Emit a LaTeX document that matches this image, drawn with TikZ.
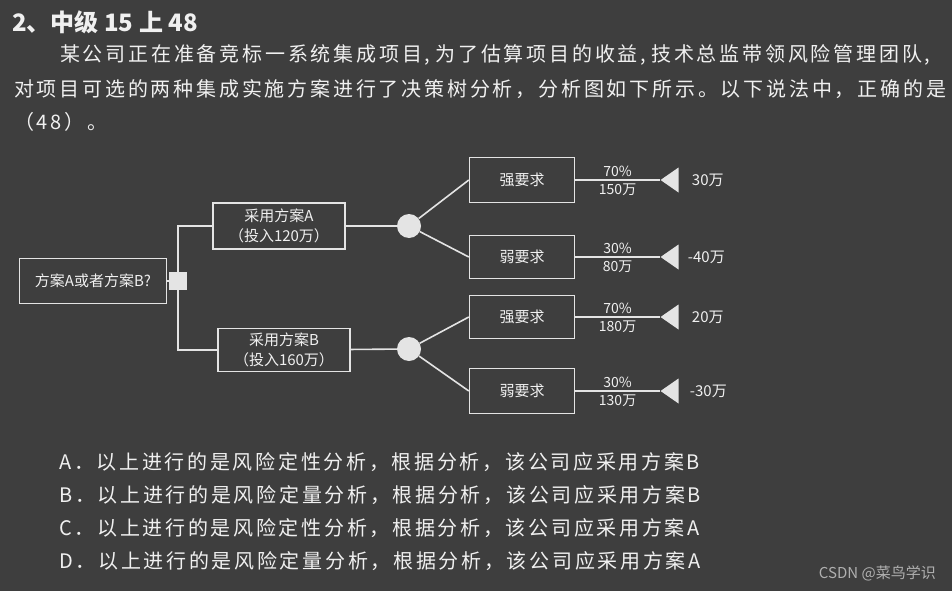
\documentclass[tikz,border=0pt]{standalone}
\usepackage{fontspec}
\setmainfont{Noto Sans CJK SC}
\newfontfamily\cjkfont{Noto Sans CJK SC}
\newfontfamily\bodyfont[LetterSpace=14]{Noto Sans CJK SC}
\newfontfamily\optfont[LetterSpace=13.5]{Noto Sans CJK SC}
\usetikzlibrary{positioning, shapes.geometric}

\definecolor{bgcol}{RGB}{62,62,62}
\definecolor{fgcol}{RGB}{240,240,240}
\definecolor{linecol}{RGB}{228,228,228}
\definecolor{markcol}{RGB}{176,176,176}

\begin{document}
\begin{tikzpicture}[
      x=1pt, y=-1pt,
      every node/.style={text=fgcol, inner sep=0pt},
      para/.style={anchor=west, font=\bodyfont\fontsize{20}{24}\selectfont},
      opt/.style={anchor=west, font=\optfont\fontsize{20}{24}\selectfont},
      box/.style={draw=linecol, line width=1.4pt, align=center,
        font=\cjkfont\fontsize{15}{20}\selectfont},
      decision/.style={rectangle, fill=linecol, minimum size=18pt},
      chance/.style={circle, fill=linecol, minimum size=24pt},
      endpt/.style={isosceles triangle, isosceles triangle stretches,
        shape border rotate=180, fill=linecol, minimum width=25pt,
        minimum height=18pt, anchor=apex},
      prob/.style={font=\cjkfont\fontsize{14}{16}\selectfont, inner sep=3pt},
      payoff/.style={font=\cjkfont\fontsize{15}{17}\selectfont},
      link/.style={draw=linecol, line width=1.6pt},
    ]
    \fill[bgcol] (0,0) rectangle (952,591);

    % question text
    \node[anchor=west, font=\cjkfont\bfseries\fontsize{24}{28}\selectfont] (title) at (12,22) {2、中级 15 上 48};
    \node[para] (line1) at (60,55) {某公司正在准备竞标一系统集成项目,\hspace{5pt}为了估算项目的收益,\hspace{5pt}技术总监带领风险管理团队,};
    \node[para] (line2) at (14,89) {对项目可选的两种集成实施方案进行了决策树分析，分析图如下所示。以下说法中，正确的是};
    \node[para] (line3) at (14,122) {（48）。};

    % decision tree
    \node[box, minimum width=147pt, minimum height=45pt] (root) at (93,281) {方案A或者方案B?};
    \node[decision] (dec) at (178,281) {};
    \node[box, minimum width=132pt, minimum height=46pt] (planA) at (279,226) {采用方案A\\（投入120万）};
    \node[box, minimum width=132pt, minimum height=43pt] (planB) at (284,350) {采用方案B\\（投入160万）};
    \node[chance] (chA) at (409,226) {};
    \node[chance] (chB) at (409,349) {};

    \node[box, minimum width=105pt, minimum height=45pt] (strongA) at (522,180) {强要求};
    \node[box, minimum width=105pt, minimum height=43pt] (weakA) at (522,257) {弱要求};
    \node[box, minimum width=105pt, minimum height=43pt] (strongB) at (522,317) {强要求};
    \node[box, minimum width=105pt, minimum height=45pt] (weakB) at (522,391) {弱要求};

    \node[endpt] (endA1) at (660,180) {};
    \node[endpt] (endA2) at (660,257) {};
    \node[endpt] (endB1) at (660,317) {};
    \node[endpt] (endB2) at (660,391) {};

    \node[payoff, right=13pt of endA1] (valA1) {30万};
    \node[payoff, right=9pt of endA2] (valA2) {-40万};
    \node[payoff, right=13pt of endB1] (valB1) {20万};
    \node[payoff, right=11pt of endB2] (valB2) {-30万};

    \draw[link] (root) -- (dec);
    \draw[link] (dec) |- (planA.west);
    \draw[link] (dec) |- (planB.west);
    \draw[link] (planA) -- (chA);
    \draw[link] (planB) -- (chB);
    \draw[link] (chA) -- (strongA.west);
    \draw[link] (chA) -- (weakA.west);
    \draw[link] (chB) -- (strongB.west);
    \draw[link] (chB) -- (weakB.west);
    \draw[link] (strongA) -- node[prob, above] (pA1) {70\%} node[prob, below] (cA1) {150万} (endA1.apex);
    \draw[link] (weakA) -- node[prob, above] (pA2) {30\%} node[prob, below] (cA2) {80万} (endA2.apex);
    \draw[link] (strongB) -- node[prob, above] (pB1) {70\%} node[prob, below] (cB1) {180万} (endB1.apex);
    \draw[link] (weakB) -- node[prob, above] (pB2) {30\%} node[prob, below] (cB2) {130万} (endB2.apex);

    % answer options
    \node[opt] (optA) at (59,462) {A．以上进行的是风险定性分析，根据分析，该公司应采用方案B};
    \node[opt] (optB) at (59,495) {B．以上进行的是风险定量分析，根据分析，该公司应采用方案B};
    \node[opt] (optC) at (59,528) {C．以上进行的是风险定性分析，根据分析，该公司应采用方案A};
    \node[opt] (optD) at (59,561) {D．以上进行的是风险定量分析，根据分析，该公司应采用方案A};

    \node[anchor=east, text=markcol, font=\cjkfont\fontsize{15}{18}\selectfont] (mark) at (936,573) {CSDN @菜鸟学识};
  \end{tikzpicture}
\end{document}
